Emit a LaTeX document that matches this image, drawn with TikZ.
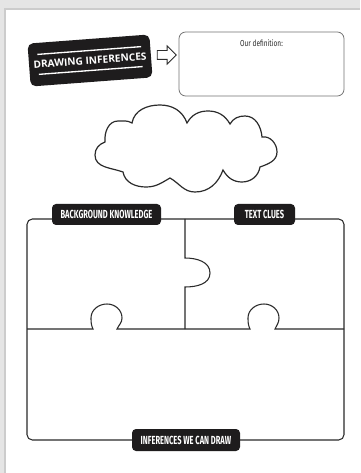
\documentclass[tikz,border=0pt]{standalone}
\usepackage{fontspec}
\usepackage{tikz}
\usetikzlibrary{positioning,shapes.arrows}
\newfontfamily\titlefont{Open Sans}
\newfontfamily\tagfont[FakeStretch=0.64]{Fira Sans}
\newfontfamily\deffont[FakeStretch=0.75]{Fira Sans}
\definecolor{ink}{HTML}{2B2B2B}
\definecolor{badge}{HTML}{1E1C1D}

\begin{document}
\begin{tikzpicture}[
  x=0.75pt, y=0.75pt,
  outline/.style={draw=ink, line width=0.8pt},
  tag/.style={fill=badge, rounded corners=3pt, text=white, inner sep=0pt,
              minimum height=15.75pt, font=\tagfont\bfseries\fontsize{8.8}{10}\selectfont},
  header/.style={fill=badge, rounded corners=4pt, minimum width=90.75pt, minimum height=32.25pt,
                 text=white, font=\titlefont\bfseries\fontsize{7.6}{9}\selectfont, rotate=4.3},
  defbox/.style={draw=black!55, line width=0.6pt, rounded corners=5pt,
                 minimum width=123.75pt, minimum height=48pt},
  hollow/.style={single arrow, draw=ink, line width=0.6pt, fill=white, inner xsep=0pt, inner ysep=0pt,
                 minimum height=14.25pt, single arrow head extend=3.5pt}
]
  \useasboundingbox (0,0) rectangle (360,-473);
  \fill[black!10] (0,0) rectangle (360,-473);
  \fill[black!20] (4,-8) rectangle (360,-473);
  \fill[white] (6,-10) rectangle (360,-473);

  \node[header] (title) at (90,-60.5) {DRAWING INFERENCES};
  \begin{scope}[shift={(title.center)}, rotate=4.3]
    \draw[white, line width=1pt] (-52,10) -- (52,10);
    \draw[white, line width=1pt] (-52,-10) -- (52,-10);
  \end{scope}
  \node[defbox] (def) at (261.5,-64) {};
  \node[font=\deffont\fontsize{6.5}{8}\selectfont, text=ink, below=2.5pt of def.north] (deftext) {Our definition:};
  \node[hollow] (pointer) at (164.5,-55) {\rule{0pt}{6pt}};

  \draw[outline, line width=0.9pt] (123,-172) to[out=160,in=-90] (95,-155) to[out=90,in=200] (105,-142)
    to[out=95,in=180] (118,-121) to[out=0,in=150] (132,-123)
    to[out=80,in=180] (160,-105) to[out=0,in=110] (187,-123)
    to[out=60,in=180] (208,-111) to[out=0,in=120] (230,-124)
    to[out=60,in=180] (245,-116) to[out=0,in=95] (262,-137)
    to[out=10,in=90] (277,-152) to[out=-90,in=20] (260,-167)
    to[out=-100,in=0] (242,-182) to[out=180,in=-60] (223,-170)
    to[out=-110,in=0] (195,-192) to[out=180,in=-30] (170,-178)
    to[out=-150,in=0] (146,-187) to[out=180,in=-80] (123,-172) -- cycle;

  \draw[outline, rounded corners=4pt] (27,-219) rectangle (344,-440);
  \draw[outline] (185,-219) -- (185,-258) to[out=0,in=90] (210,-273)
    to[out=-90,in=0] (185,-287) -- (185,-329);
  \draw[outline] (27,-329) -- (93,-329) to[out=115,in=-90] (91,-318) to[out=90,in=180] (107,-304)
    to[out=0,in=90] (122,-318) to[out=-90,in=65] (117,-329) -- (250,-329)
    to[out=115,in=-90] (248,-318) to[out=90,in=180] (264,-304)
    to[out=0,in=90] (279,-318) to[out=-90,in=65] (275,-329) -- (344,-329);

  \node[tag, minimum width=81.75pt] (bk) at (106.5,-214.5) {BACKGROUND KNOWLEDGE};
  \node[tag, minimum width=45.75pt] (clues) at (264.5,-214.5) {TEXT CLUES};
  \node[tag, minimum width=81pt, minimum height=16.5pt] (draw) at (186,-440) {INFERENCES WE CAN DRAW};
\end{tikzpicture}
\end{document}
